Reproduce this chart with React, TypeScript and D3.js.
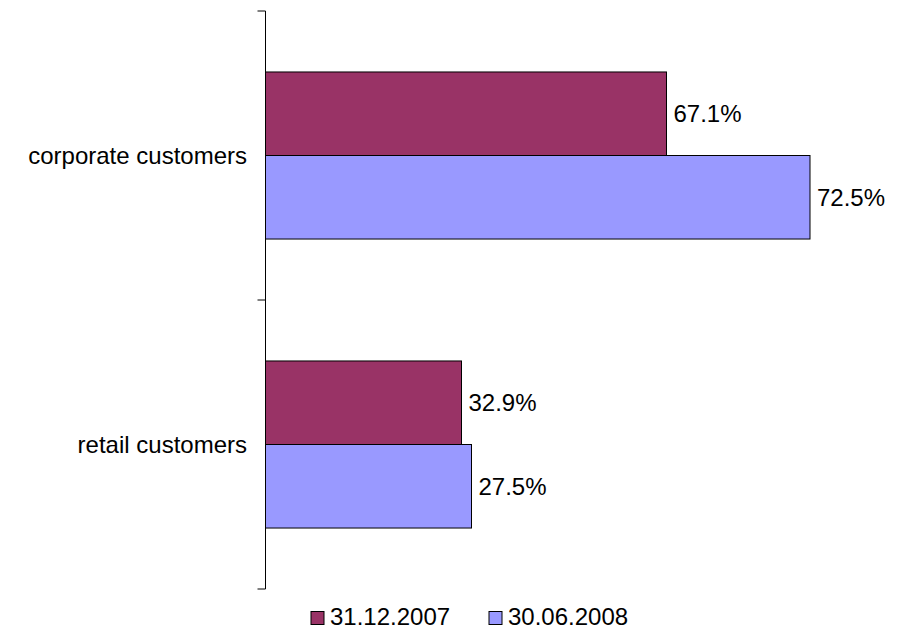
import React from "react";
import * as d3 from "d3";

const categories = ["corporate customers", "retail customers"];
const seriesNames = ["31.12.2007", "30.06.2008"];
// absolute volumes (arbitrary units)
const values2007 = [401, 196];
const values2008 = [544.5, 206];
const labels2007 = ["67.1%", "32.9%"];
const labels2008 = ["72.5%", "27.5%"];
const seriesColors = ["#993366", "#9999FF"];

const W = 903;
const H = 630;
const x0 = 265.5;
const yTop = 11;
const yBottom = 589;

export default function App() {
  const y = d3.scaleBand<string>().domain(categories).range([yTop, yBottom]).paddingInner(0).paddingOuter(0);
  const ys = d3.scaleBand<string>().domain(seriesNames).range([0, y.bandwidth()]).paddingInner(0).paddingOuter(0.73);
  const x = d3.scaleLinear().domain([0, 600]).range([x0, x0 + 600]);

  const seriesValues = [values2007, values2008];
  const seriesLabels = [labels2007, labels2008];

  const tickYs = [...categories.map((c) => y(c) as number), yBottom];

  const legendX = [311, 489];
  const fontFamily = "'Liberation Sans', Arial, sans-serif";

  return (
    <svg width={W} height={H} style={{ position: "absolute", left: 0, top: 0, background: "#fff" }} fontFamily={fontFamily}>
      {categories.map((c, ci) =>
        seriesNames.map((s, si) => {
          const v = seriesValues[si][ci];
          const by = (y(c) as number) + (ys(s) as number);
          const bh = ys.bandwidth();
          return (
            <g key={c + s}>
              <rect
                x={x(0)}
                y={by}
                width={x(v) - x(0)}
                height={bh}
                fill={seriesColors[si]}
                stroke="#000"
                strokeWidth={1}
              />
              <text x={x(v) + 7} y={by + bh / 2} dominantBaseline="central" fontSize={24} fill="#000">
                {seriesLabels[si][ci]}
              </text>
            </g>
          );
        })
      )}
      <line x1={x0} x2={x0} y1={yTop} y2={yBottom} stroke="#000" strokeWidth={1} />
      {tickYs.map((t, i) => (
        <line key={i} x1={x0 - 8} x2={x0} y1={t} y2={t} stroke="#000" strokeWidth={1} />
      ))}
      {categories.map((c) => (
        <text
          key={c}
          x={247}
          y={(y(c) as number) + y.bandwidth() / 2}
          textAnchor="end"
          dominantBaseline="central"
          fontSize={24}
          fill="#000"
        >
          {c}
        </text>
      ))}
      {seriesNames.map((s, i) => (
        <g key={s}>
          <rect x={legendX[i]} y={611.5} width={13} height={13} fill={seriesColors[i]} stroke="#000" strokeWidth={1} />
          <text x={legendX[i] + 19} y={624.5} fontSize={24} fill="#000">
            {s}
          </text>
        </g>
      ))}
    </svg>
  );
}
